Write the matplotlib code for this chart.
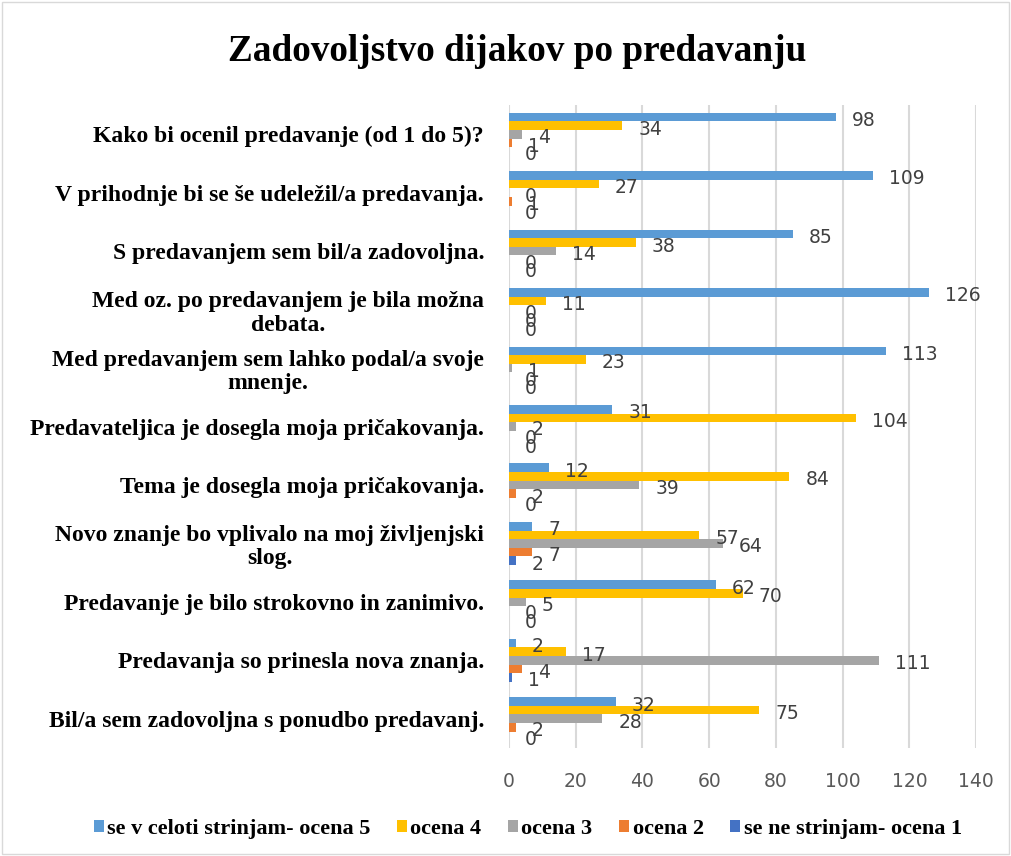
import numpy as np
import matplotlib.pyplot as plt
from matplotlib.patches import Rectangle

# vprasanja (od zgoraj navzdol)
vprasanja = ['Kako bi ocenil predavanje (od 1 do 5)?',
             'V prihodnje bi se še udeležil/a predavanja.',
             'S predavanjem sem bil/a zadovoljna.',
             'Med oz. po predavanjem je bila možna\ndebata.',
             'Med predavanjem sem lahko podal/a svoje\nmnenje.',
             'Predavateljica je dosegla moja pričakovanja.',
             'Tema je dosegla moja pričakovanja.',
             'Novo znanje bo vplivalo na moj življenjski\nslog.',
             'Predavanje je bilo strokovno in zanimivo.',
             'Predavanja so prinesla nova znanja.',
             'Bil/a sem zadovoljna s ponudbo predavanj.']

ocena5 = [98, 109, 85, 126, 113, 31, 12, 7, 62, 2, 32]
ocena4 = [34, 27, 38, 11, 23, 104, 84, 57, 70, 17, 75]
ocena3 = [4, 0, 14, 0, 1, 2, 39, 64, 5, 111, 28]
ocena2 = [1, 1, 0, 0, 0, 0, 2, 7, 0, 4, 2]
ocena1 = [0, 0, 0, 0, 0, 0, 0, 2, 0, 1, 0]

serije = [ocena5, ocena4, ocena3, ocena2, ocena1]
imena = ['se v celoti strinjam- ocena 5', 'ocena 4', 'ocena 3', 'ocena 2',
         'se ne strinjam- ocena 1']
barve = ['#5B9BD5', '#FFC000', '#A5A5A5', '#ED7D31', '#4472C4']

fig = plt.figure(figsize=(10.11, 8.56), dpi=100)
ax = fig.add_axes([0.5035, 0.1262, 0.462, 0.7511])

n = len(vprasanja)
y = np.arange(n)
h = 0.147
for k in range(5):
    yy = y - 2*h + k*h
    ax.barh(yy, serije[k], height=h, color=barve[k], label=imena[k], zorder=3)
    for i in range(n):
        ax.annotate(str(serije[k][i]), (serije[k][i], yy[i]), xytext=(11.5, -2.5),
                    textcoords='offset points', ha='left', va='center',
                    fontsize=13.5, color='#404040', zorder=4)

ax.set_ylim(n - 0.5, -0.5)
ax.set_xlim(0, 140)
ax.set_xticks(np.arange(0, 141, 20))
ax.set_yticks(y)
ax.set_yticklabels(vprasanja, fontsize=17, fontweight='bold',
                   family='Liberation Serif', multialignment='center', linespacing=1.15)
ax.tick_params(axis='y', length=0, pad=18)
ax.tick_params(axis='x', length=0, pad=17, labelsize=13.5, labelcolor='#595959')
ax.grid(axis='x', color='#D9D9D9', linewidth=1.5, zorder=0)
for s in ax.spines.values():
    s.set_visible(False)

fig.suptitle('Zadovoljstvo dijakov po predavanju', x=0.512, y=0.94, va='center',
             fontsize=26.8, fontweight='bold', family='Liberation Serif')

fig.legend(loc='center', bbox_to_anchor=(0.522, 0.032), ncol=5, frameon=False,
           handlelength=0.45, handleheight=0.45, handletextpad=0.15, columnspacing=1.2,
           prop={'family': 'Liberation Serif', 'weight': 'bold', 'size': 16})

fig.patches.append(Rectangle((0.002, 0.002), 0.996, 0.996, transform=fig.transFigure,
                             fill=False, edgecolor='#D9D9D9', linewidth=1))

fig.savefig('out.png', dpi=100)
